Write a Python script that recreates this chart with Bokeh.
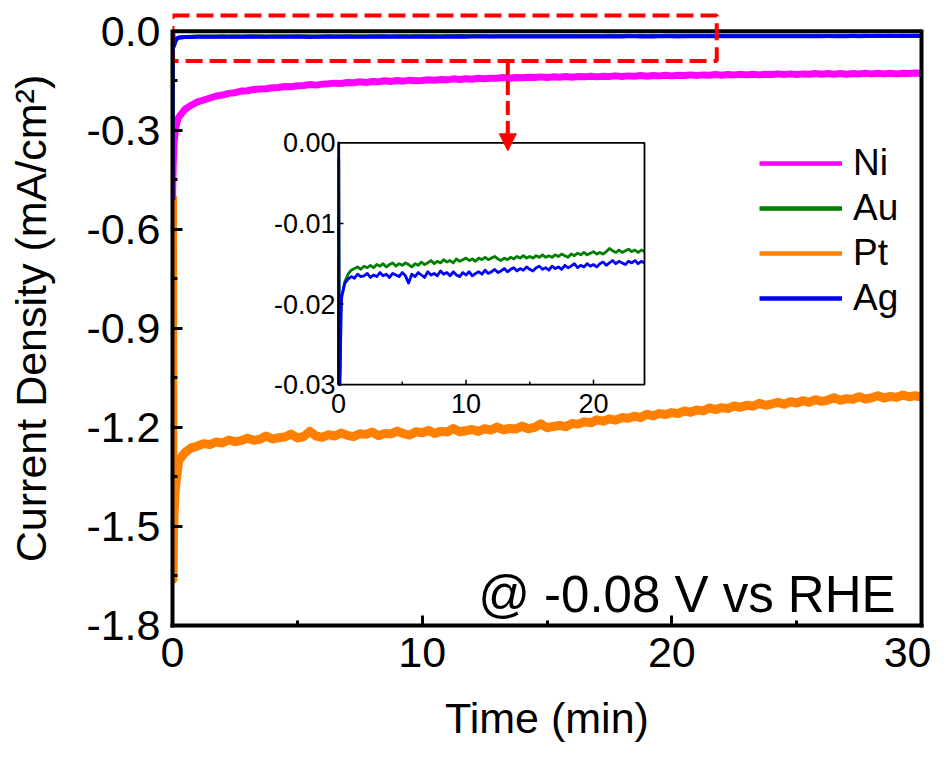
import numpy as np
from bokeh.plotting import figure
from bokeh.models import (Range1d, FixedTicker, PrintfTickFormatter, LinearAxis,
                          Legend, LegendItem, Arrow, NormalHead)
from bokeh.core.properties import value
from bokeh.embed import file_html
from bokeh.resources import INLINE

FONT = "Liberation Sans"

# ---------------- data ----------------
# sampling times, 4 per minute
T_GRID = [0.25, 0.5, 0.75, 1.0,  1.25, 1.5, 1.75, 2.0,  2.25, 2.5, 2.75, 3.0,
          3.25, 3.5, 3.75, 4.0,  4.25, 4.5, 4.75, 5.0,  5.25, 5.5, 5.75, 6.0,
          6.25, 6.5, 6.75, 7.0,  7.25, 7.5, 7.75, 8.0,  8.25, 8.5, 8.75, 9.0,
          9.25, 9.5, 9.75, 10.0, 10.25, 10.5, 10.75, 11.0, 11.25, 11.5, 11.75, 12.0,
          12.25, 12.5, 12.75, 13.0, 13.25, 13.5, 13.75, 14.0, 14.25, 14.5, 14.75, 15.0,
          15.25, 15.5, 15.75, 16.0, 16.25, 16.5, 16.75, 17.0, 17.25, 17.5, 17.75, 18.0,
          18.25, 18.5, 18.75, 19.0, 19.25, 19.5, 19.75, 20.0, 20.25, 20.5, 20.75, 21.0,
          21.25, 21.5, 21.75, 22.0, 22.25, 22.5, 22.75, 23.0, 23.25, 23.5, 23.75, 24.0,
          24.25, 24.5, 24.75, 25.0, 25.25, 25.5, 25.75, 26.0, 26.25, 26.5, 26.75, 27.0,
          27.25, 27.5, 27.75, 28.0, 28.25, 28.5, 28.75, 29.0, 29.25, 29.5, 29.75, 30.0]

# Ni (mA/cm2)
NI_T0 = [0.0, 0.03, 0.06, 0.1, 0.15, 0.2]
NI_J0 = [-0.51, -0.40, -0.34, -0.31, -0.285, -0.27]
NI_J = [-0.260, -0.236, -0.224, -0.214,  -0.208, -0.202, -0.196, -0.193,
        -0.188, -0.186, -0.181, -0.180,  -0.176, -0.175, -0.174, -0.171,
        -0.170, -0.167, -0.168, -0.165,  -0.164, -0.161, -0.163, -0.160,
        -0.159, -0.157, -0.158, -0.155,  -0.156, -0.153, -0.155, -0.152,
        -0.153, -0.150, -0.152, -0.149,  -0.151, -0.148, -0.150, -0.149,
        -0.147, -0.148, -0.146, -0.147,  -0.144, -0.146, -0.144, -0.145,
        -0.142, -0.144, -0.142, -0.142,  -0.140, -0.142, -0.140, -0.141,
        -0.139, -0.140, -0.138, -0.140,  -0.138, -0.139, -0.137, -0.139,
        -0.137, -0.138, -0.136, -0.138,  -0.136, -0.137, -0.135, -0.137,
        -0.135, -0.136, -0.134, -0.136,  -0.134, -0.135, -0.133, -0.135,
        -0.133, -0.134, -0.132, -0.134,  -0.132, -0.133, -0.131, -0.133,
        -0.131, -0.132, -0.130, -0.132,  -0.130, -0.132, -0.130, -0.131,
        -0.129, -0.131, -0.129, -0.131,  -0.129, -0.130, -0.128, -0.130,
        -0.128, -0.130, -0.128, -0.130,  -0.128, -0.129, -0.127, -0.129,
        -0.127, -0.129, -0.127, -0.129,  -0.127, -0.128, -0.126, -0.128]

# Pt
PT_T0 = [0.0, 0.02, 0.04, 0.07, 0.1, 0.15, 0.2]
PT_J0 = [-0.50, -1.66, -1.52, -1.45, -1.40, -1.36, -1.33]
PT_J = [-1.300, -1.276, -1.262, -1.256,  -1.249, -1.252, -1.244, -1.247,
        -1.238, -1.243, -1.240, -1.233,  -1.239, -1.236, -1.226, -1.235,
        -1.231, -1.229, -1.220, -1.232,  -1.228, -1.212, -1.226, -1.230,
        -1.222, -1.226, -1.217, -1.224,  -1.228, -1.219, -1.221, -1.214,
        -1.225, -1.218, -1.220, -1.211,  -1.219, -1.223, -1.213, -1.216,
        -1.209, -1.218, -1.212, -1.214,  -1.203, -1.213, -1.210, -1.206,
        -1.212, -1.204, -1.208, -1.199,  -1.207, -1.203, -1.205, -1.196,
        -1.204, -1.200, -1.189, -1.201,  -1.197, -1.194, -1.198, -1.188,
        -1.190, -1.183, -1.186, -1.177,  -1.181, -1.174, -1.178, -1.170,
        -1.172, -1.166, -1.170, -1.160,  -1.165, -1.158, -1.161, -1.155,
        -1.158, -1.150, -1.154, -1.147,  -1.150, -1.141, -1.146, -1.140,
        -1.143, -1.135, -1.139, -1.133,  -1.136, -1.127, -1.133, -1.129,
        -1.124, -1.130, -1.122, -1.126,  -1.119, -1.124, -1.116, -1.121,
        -1.117, -1.110, -1.118, -1.113,  -1.115, -1.107, -1.114, -1.110,
        -1.104, -1.111, -1.106, -1.109,  -1.102, -1.107, -1.104, -1.108]

# Au
AU_T0 = [0.0, 0.02, 0.06, 0.12, 0.2]
AU_J0 = [-0.30, -0.002, -0.04, -0.028, -0.021]
AU_J = [-0.0192, -0.0172, -0.0163, -0.0158,  -0.0156, -0.0154, -0.0157, -0.0153,
        -0.0155, -0.0152, -0.0155, -0.0151,  -0.0153, -0.0150, -0.0154, -0.0151,
        -0.0149, -0.0153, -0.0150, -0.0152,  -0.0149, -0.0151, -0.0154, -0.0150,
        -0.0152, -0.0148, -0.0151, -0.0149,  -0.0146, -0.0150, -0.0147, -0.0149,
        -0.0145, -0.0148, -0.0146, -0.0149,  -0.0144, -0.0147, -0.0145, -0.0143,
        -0.0146, -0.0144, -0.0147, -0.0143,  -0.0145, -0.0142, -0.0145, -0.0143,
        -0.0141, -0.0144, -0.0146, -0.0143,  -0.0145, -0.0142, -0.0144, -0.0141,
        -0.0143, -0.0140, -0.0143, -0.0141,  -0.0143, -0.0140, -0.0142, -0.0139,
        -0.0142, -0.0140, -0.0142, -0.0139,  -0.0141, -0.0138, -0.0140, -0.0142,
        -0.0138, -0.0140, -0.0137, -0.0139,  -0.0136, -0.0139, -0.0137, -0.0135,
        -0.0138, -0.0136, -0.0138, -0.0135,  -0.0131, -0.0134, -0.0136, -0.0133,
        -0.0136, -0.0134, -0.0132, -0.0135,  -0.0133, -0.0136, -0.0133, -0.0135,
        -0.0133, -0.0135, -0.0132, -0.0134,  -0.0132, -0.0134, -0.0131, -0.0133,
        -0.0131, -0.0133, -0.0131, -0.0133,  -0.0130, -0.0132, -0.0130, -0.0132,
        -0.0130, -0.0132, -0.0129, -0.0131,  -0.0129, -0.0131, -0.0129, -0.0131]

# Ag
AG_T0 = [0.0, 0.02, 0.06, 0.12, 0.2]
AG_J0 = [-0.51, 0.0, -0.045, -0.030, -0.021]
AG_J = [-0.0190, -0.0174, -0.0169, -0.0166,  -0.0168, -0.0163, -0.0166, -0.0165,
        -0.0162, -0.0167, -0.0164, -0.0166,  -0.0161, -0.0165, -0.0163, -0.0167,
        -0.0162, -0.0164, -0.0166, -0.0161,  -0.0165, -0.0174, -0.0163, -0.0166,
        -0.0161, -0.0164, -0.0167, -0.0160,  -0.0164, -0.0162, -0.0165, -0.0159,
        -0.0163, -0.0161, -0.0165, -0.0160,  -0.0164, -0.0166, -0.0161, -0.0164,
        -0.0160, -0.0165, -0.0162, -0.0160,  -0.0163, -0.0158, -0.0162, -0.0160,
        -0.0157, -0.0161, -0.0159, -0.0156,  -0.0160, -0.0157, -0.0155, -0.0159,
        -0.0156, -0.0158, -0.0154, -0.0157,  -0.0159, -0.0155, -0.0153, -0.0157,
        -0.0155, -0.0158, -0.0153, -0.0156,  -0.0154, -0.0157, -0.0152, -0.0155,
        -0.0153, -0.0150, -0.0155, -0.0152,  -0.0154, -0.0150, -0.0153, -0.0151,
        -0.0154, -0.0150, -0.0148, -0.0152,  -0.0149, -0.0146, -0.0150, -0.0147,
        -0.0149, -0.0151, -0.0147, -0.0149,  -0.0146, -0.0150, -0.0147, -0.0149,
        -0.0147, -0.0149, -0.0146, -0.0148,  -0.0146, -0.0148, -0.0145, -0.0147,
        -0.0145, -0.0147, -0.0144, -0.0146,  -0.0144, -0.0146, -0.0144, -0.0145,
        -0.0143, -0.0145, -0.0143, -0.0145,  -0.0143, -0.0144, -0.0142, -0.0144]

SERIES = [  # name, colour, times, values, main line width
    ("Pt", "#FF8000", PT_T0 + T_GRID, PT_J0 + PT_J, 9),
    ("Ni", "#FF00FF", NI_T0 + T_GRID, NI_J0 + NI_J, 7),
    ("Au", "#008000", AU_T0 + T_GRID, AU_J0 + AU_J, 4),
    ("Ag", "#0000FF", AG_T0 + T_GRID, AG_J0 + AG_J, 4),
]
for _n, _c, _t, _j, _w in SERIES:
    assert len(_t) == len(_j), (_n, len(_t), len(_j))

LEGEND_ORDER = ["Ni", "Au", "Pt", "Ag"]
INSET_SERIES = ["Au", "Ag"]

X_TICKS = [0, 10, 20, 30]
X_MINOR = [5, 15, 25]
Y_TICKS = [-1.8, -1.5, -1.2, -0.9, -0.6, -0.3, 0.0]
Y_MINOR = [-1.65, -1.35, -1.05, -0.75, -0.45, -0.15]

INSET_X_TICKS = [0, 10, 20]
INSET_X_LABELS = ["0", "10", "20"]
INSET_X_MINOR = [5, 15]
INSET_Y_TICKS = [0.0, -0.01, -0.02, -0.03]
INSET_Y_LABELS = ["0.00", "-0.01", "-0.02", "-0.03"]
INSET_T = (0.0, 24.0)
INSET_J = (-0.03, 0.0)

ZOOM_BOX = dict(left=0.0, right=21.8, bottom=-0.09, top=0.048)
NOTE = "@ -0.08 V vs RHE"

# ---------------- figure ----------------
X_RANGE = (0.0, 30.0)
Y_RANGE = (-1.8, 0.06)

p = figure(width=931, height=744, x_range=Range1d(*X_RANGE), y_range=Range1d(*Y_RANGE),
           output_backend="svg", toolbar_location=None,
           min_border_left=172, min_border_right=10, min_border_top=11, min_border_bottom=111,
           outline_line_color=None, background_fill_color="white", border_fill_color="white")
p.xgrid.visible = False
p.ygrid.visible = False

def style_axis(ax):
    ax.axis_line_width = 4
    ax.axis_line_color = "black"
    ax.axis_line_cap = "square"
    ax.major_tick_in = 10
    ax.major_tick_out = 0
    ax.minor_tick_in = 5
    ax.minor_tick_out = 0
    ax.major_tick_line_width = 3
    ax.minor_tick_line_width = 3
    ax.major_tick_line_color = "black"
    ax.minor_tick_line_color = "black"
    ax.major_label_text_font = FONT
    ax.major_label_text_font_size = "43px"
    ax.major_label_text_color = "black"
    ax.axis_label_text_font = FONT
    ax.axis_label_text_font_size = "43px"
    ax.axis_label_text_font_style = "normal"
    ax.axis_label_text_color = "black"

xa = p.xaxis[0]
style_axis(xa)
xa.ticker = FixedTicker(ticks=X_TICKS, minor_ticks=X_MINOR)
xa.formatter = PrintfTickFormatter(format="%d")
xa.axis_label = "Time (min)"
xa.major_label_standoff = 12
xa.axis_label_standoff = 24

ya = p.yaxis[0]
style_axis(ya)
ya.bounds = (Y_RANGE[0], 0.0)
ya.ticker = FixedTicker(ticks=Y_TICKS, minor_ticks=Y_MINOR)
ya.formatter = PrintfTickFormatter(format="%.1f")
ya.axis_label = "Current Density (mA/cm²)"
ya.major_label_standoff = 12
ya.axis_label_standoff = 28

ra = LinearAxis(bounds=(Y_RANGE[0], 0.0), ticker=FixedTicker(ticks=[]),
                axis_line_width=4, axis_line_color="black", axis_line_cap="square",
                major_tick_in=0, major_tick_out=0, minor_tick_in=0, minor_tick_out=0,
                major_label_text_font_size="0px", major_label_standoff=0)
p.add_layout(ra, "right")

# top spine at zero
p.segment(x0=[X_RANGE[0]], y0=[0.0], x1=[X_RANGE[1]], y1=[0.0], line_width=4,
          line_color="black", line_cap="square")

# main curves
lookup = {}
for name, colour, t, j, lw in SERIES:
    p.line(t, j, line_color=colour, line_width=lw, line_join="round")
    lookup[name] = (colour, t, j)

# legend (own renderers with the legend line weight, no visible data)
items = []
for name in LEGEND_ORDER:
    r = p.line([np.nan], [np.nan], line_color=lookup[name][0], line_width=4.5)
    items.append(LegendItem(label=name, renderers=[r]))
legend = Legend(items=items, location=(587, 306), orientation="vertical",
                glyph_width=83, glyph_height=40, label_height=40, spacing=3,
                label_standoff=11, padding=0, margin=0, border_line_color=None,
                background_fill_alpha=0, label_text_font=FONT,
                label_text_font_size="37px", label_text_color="black")
p.add_layout(legend)

# zoom rectangle
p.quad(left=[ZOOM_BOX["left"]], right=[ZOOM_BOX["right"]], bottom=[ZOOM_BOX["bottom"]],
       top=[ZOOM_BOX["top"]], fill_color=None, line_color="#FF0000", line_width=4,
       line_dash="17 7")

# note
p.text(x=[28.96], y=[-1.7075], text=[NOTE], text_align="right", text_baseline="alphabetic",
       text_font=value(FONT), text_font_size="51px", text_color="black")

# ---------------- inset ----------------
sub = p.subplot(x_source=Range1d(*INSET_T), y_source=Range1d(*INSET_J),
                x_target=Range1d(6.649, 18.905), y_target=Range1d(-1.0704, -0.3377))

for name in INSET_SERIES:
    colour, t, j = lookup[name]
    t = np.array(t)
    j = np.array(j)
    m = t <= INSET_T[1]
    sub.line(t[m], np.clip(j[m], INSET_J[0], INSET_J[1]), line_color=colour,
             line_width=2.8, line_join="round")

sub.quad(left=[INSET_T[0]], right=[INSET_T[1]], bottom=[INSET_J[0]], top=[INSET_J[1]],
         fill_color=None, line_color="black", line_width=1.8)
sub.ray(x=INSET_X_TICKS[1:], y=INSET_J[0], length=5, angle=np.pi / 2,
        length_units="screen", line_color="black", line_width=1.5)
sub.ray(x=INSET_X_MINOR, y=INSET_J[0], length=3, angle=np.pi / 2,
        length_units="screen", line_color="black", line_width=1.5)
sub.ray(x=INSET_T[0], y=INSET_Y_TICKS[1:-1], length=5, angle=0.0,
        length_units="screen", line_color="black", line_width=1.5)
sub.text(x=INSET_X_TICKS, y=INSET_J[0], text=INSET_X_LABELS, text_align="center",
         text_baseline="top", y_offset=9, text_font=value(FONT), text_font_size="27px",
         text_color="black")
sub.text(x=INSET_T[0], y=INSET_Y_TICKS, text=INSET_Y_LABELS, text_align="right",
         text_baseline="middle", x_offset=-3, text_font=value(FONT), text_font_size="27px",
         text_color="black")

# arrow from zoom box to inset
p.add_layout(Arrow(end=NormalHead(size=17, fill_color="#FF0000", line_color="#FF0000",
                                  line_width=1),
                   x_start=13.43, y_start=ZOOM_BOX["bottom"], x_end=13.43, y_end=-0.362,
                   line_color="#FF0000", line_width=4, line_dash="14 6"))

open("out.html", "w").write(file_html(p, INLINE))
